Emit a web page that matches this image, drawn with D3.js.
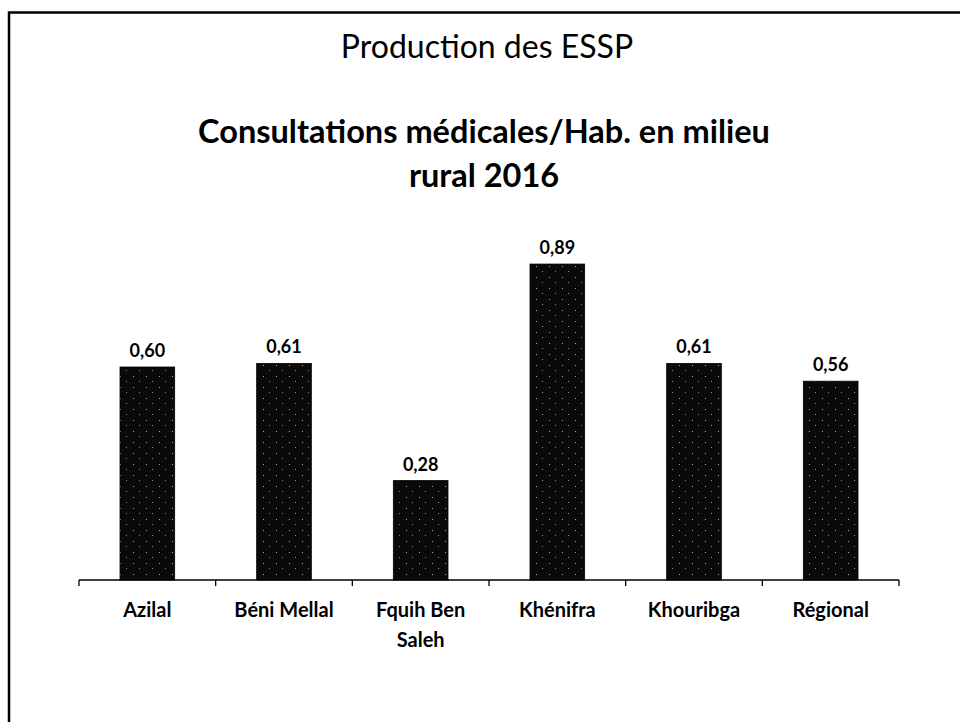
<!DOCTYPE html>
<html><head><meta charset="utf-8">
<script src="https://cdn.jsdelivr.net/npm/d3@7/dist/d3.min.js"></script>
<style>body{margin:0;background:#fff}svg{display:block}</style>
</head><body>
<script>
const categories = ["Azilal", "Béni Mellal", "Fquih Ben\nSaleh", "Khénifra", "Khouribga", "Régional"];
const values = [0.60, 0.61, 0.28, 0.89, 0.61, 0.56];
const valueLabels = ["0,60", "0,61", "0,28", "0,89", "0,61", "0,56"];
const title = "Production des ESSP";
const subtitle = ["Consultations médicales/Hab. en milieu", "rural 2016"];

const W = 960, H = 722;
const svg = d3.select("body").append("svg").attr("width", W).attr("height", H);
const font = "Lato, 'Open Sans', sans-serif";

// stipple pattern
const defs = svg.append("defs");
const pat = defs.append("pattern").attr("id", "stip").attr("patternUnits", "userSpaceOnUse")
  .attr("width", 13).attr("height", 11);
pat.append("rect").attr("width", 13).attr("height", 11).attr("fill", "#0a0a0a");
pat.append("rect").attr("x", 3).attr("y", 2).attr("width", 1).attr("height", 1).attr("fill", "#aaa");
pat.append("rect").attr("x", 9).attr("y", 7).attr("width", 1).attr("height", 1).attr("fill", "#888");

// frame
svg.append("path").attr("d", `M9,${H+5} V12.5 H${W+5}`).attr("fill", "none")
  .attr("stroke", "#000").attr("stroke-width", 2.5);

svg.append("text").attr("x", 487).attr("y", 58).attr("text-anchor", "middle")
  .attr("font-family", font).attr("font-size", 32).attr("fill", "#000").text(title);
svg.append("text").attr("x", 484).attr("y", 143).attr("text-anchor", "middle")
  .attr("font-family", font).attr("font-weight", "bold").attr("font-size", 32.5).attr("fill", "#000")
  .selectAll("tspan").data(subtitle).join("tspan")
  .attr("x", 484).attr("dy", (d, i) => i ? 44 : 0).text(d => d);

const x0 = 79, x1 = 899, yBase = 580;
const x = d3.scaleBand().domain(categories).range([x0, x1]).paddingInner(0.6).paddingOuter(0.3);
const y = d3.scaleLinear().domain([0, 1]).range([yBase, 225]);
const step = x.step(), gap = step - x.bandwidth();

svg.append("g").selectAll("rect").data(values).join("rect")
  .attr("x", (d, i) => x(categories[i])).attr("y", d => y(d))
  .attr("width", x.bandwidth()).attr("height", d => y(0) - y(d))
  .attr("fill", "url(#stip)").attr("stroke", "#000").attr("stroke-width", 0.8);

svg.append("g").selectAll("text").data(values).join("text")
  .attr("x", (d, i) => x(categories[i]) + x.bandwidth() / 2).attr("y", d => y(d) - 10)
  .attr("text-anchor", "middle").attr("font-family", font).attr("font-weight", "bold")
  .attr("font-size", 18).attr("fill", "#000").text((d, i) => valueLabels[i]);

// axis line and ticks
const ax = svg.append("g");
ax.append("line").attr("x1", x0).attr("x2", x1).attr("y1", yBase).attr("y2", yBase)
  .attr("stroke", "#000").attr("stroke-width", 1.3);
const bounds = categories.map(c => x(c) - gap / 2).concat([x1]);
ax.selectAll("line.t").data(bounds).join("line").attr("class", "t")
  .attr("x1", d => d).attr("x2", d => d).attr("y1", yBase).attr("y2", yBase + 6)
  .attr("stroke", "#000").attr("stroke-width", 1.3);

const lab = svg.append("g").selectAll("text").data(categories).join("text")
  .attr("x", d => x(d) + x.bandwidth() / 2).attr("y", 617)
  .attr("text-anchor", "middle").attr("font-family", font).attr("font-weight", "bold")
  .attr("font-size", 20).attr("fill", "#000");
lab.selectAll("tspan").data(d => d.split("\n")).join("tspan")
  .attr("x", function() { return this.parentNode.getAttribute("x"); })
  .attr("dy", (d, i) => i ? 30 : 0).text(d => d);
</script>
</body></html>
